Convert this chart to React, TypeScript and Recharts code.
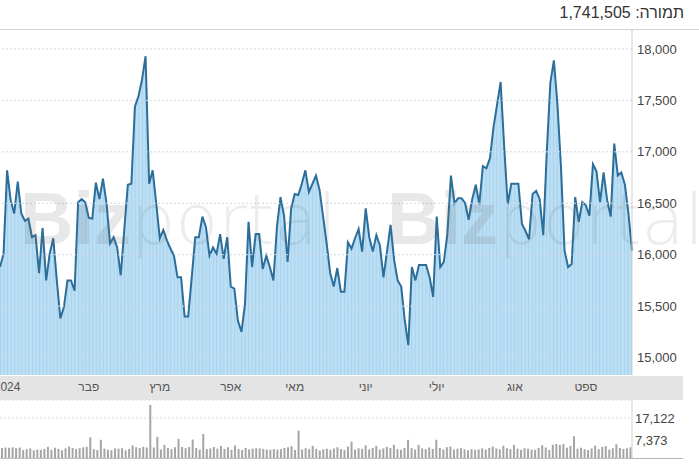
import React from 'react';
import { AreaChart, Area, BarChart, Bar, XAxis, YAxis, CartesianGrid, ReferenceLine } from 'recharts';

// daily closing values, Jan - Sep 2024
const prices: number[] = [
    15880, 16010, 16820, 16530, 16400, 16710, 16400, 16330, 16350, 16170, 16190, 15820, 16260, 15750, 16010, 16160,
    15750, 15380, 15490, 15750, 15750, 15650, 16510, 16540, 16510, 16360, 16350, 16700, 16540, 16740, 16500, 16110,
    16170, 16070, 15800, 16240, 16680, 16690, 17440, 17540, 17700, 17930, 16690, 16820, 16500, 16160, 16240, 16140,
    16060, 15990, 15780, 15780, 15400, 15400, 15780, 16170, 16170, 16370, 16270, 15990, 16070,
    16010, 16200, 15960, 16170, 15690, 15670, 15360, 15250, 15520, 16320, 15880, 16200, 16200, 15860, 15990, 15880,
    15750, 16270, 16560, 16380, 15930, 16450, 16590, 16580, 16690, 16820, 16610, 16690, 16770, 16630,
    16370, 16110, 15820, 15690, 15870, 15640, 15640, 16120, 16060, 16160, 16250, 16030, 16450, 16170, 16030, 16190,
    16090, 15780, 16030, 16290, 15950, 15750, 15690, 15360, 15120, 15880, 15750, 15900, 15900, 15900,
    15780, 15590, 16370, 15880, 15930, 16200, 16770, 16500, 16550, 16550, 16500, 16340, 16540, 16680, 16490, 16860,
    16840, 16940, 17240, 17460, 17680, 17050, 16490, 16690, 16690, 16690, 16300, 16230, 16150,
    16590, 16620, 16540, 16190, 17000, 17670, 17890, 17460, 16850, 16040, 15880, 15910, 16560, 16320, 16510, 16480,
    16380, 16880, 16810, 16510, 16800, 16530, 16370, 17080, 16770, 16800, 16680, 16400, 16040,
];

const volumes: number[] = [
    4300, 4500, 4400, 4600, 4200, 4500, 3400, 3800, 4100, 3300, 3600, 3500, 3900, 4800, 3500, 4400,
    3900, 3300, 4100, 4900, 4300, 3800, 4200, 4600, 4800, 8850, 3800, 3400, 7800, 4000, 3500, 3300,
    4100, 4000, 4200, 3300, 3900, 5400, 4600, 4300, 4800, 4500, 22700, 4500, 9000, 3600, 5600, 4300,
    3800, 4600, 8200, 4700, 4200, 4700, 7900, 4300, 3600, 10300, 3800, 4100, 4700, 4000, 5200, 3900,
    4600, 3500, 5400, 3800, 3400, 4300, 3700, 4000, 4200, 4100, 3900, 3600, 3500, 3800, 3600, 3800,
    4300, 4600, 5100, 3400, 11700, 3600, 4200, 3800, 5200, 3900, 3200, 3700, 4000, 3500, 4100, 4600,
    3800, 3500, 4900, 7000, 3600, 4200, 3900, 5400, 3700, 4300, 5200, 3600, 4100, 4800, 4300, 5700,
    3800, 3500, 4300, 7800, 4200, 3600, 5600, 4100, 3800, 4500, 3900, 7800, 4300, 3700, 4600, 4900,
    3600, 4000, 4200, 3700, 3300, 3800, 3500, 3700, 4100, 3600, 4300, 4900, 4100, 3700, 5300, 4200,
    3800, 5600, 4000, 3500, 4200, 4000, 3600, 3500, 4300, 5500, 4500, 3400, 5700, 6000, 5600, 6000,
    4400, 5200, 9300, 4000, 4400, 3800, 3400, 4100, 5300, 3800, 4700, 5100, 3600, 4200, 5900, 4300,
    3900, 4100, 4600,
];

const monthTickIdx = [2, 25, 45, 65, 83, 103, 123, 145, 165];
const monthLabels = ['2024', 'פבר', 'מרץ', 'אפר', 'מאי', 'יוני', 'יולי', 'אוג', 'ספט'];
const priceTicks = [15000, 15500, 16000, 16500, 17000, 17500, 18000];
const volumeTicks = [7373, 17122];
const turnover = '1,741,505';

const priceData = prices.map((p, i) => ({ i, price: p }));
const volumeData = volumes.map((v, i) => ({ i, volume: v }));

const fmt = (v: number) => v.toLocaleString('en-US');
const monthName = (v: number) => monthLabels[monthTickIdx.indexOf(v)] ?? '';

const font = 'Arial, "Liberation Sans", sans-serif';
const step = 631 / (prices.length - 1);

const App: React.FC = () => {
    return (
        <div style={{ position: 'absolute', left: 0, top: 0, width: 699, height: 475, background: '#fff', fontFamily: font, overflow: 'hidden' }}>
            <div style={{ position: 'absolute', right: 15, top: 3, fontSize: 16, color: '#333', direction: 'rtl', lineHeight: '20px' }}>
                תמורה: {turnover}
            </div>
            <div style={{ position: 'absolute', left: 0, top: 29, width: 699, height: 1, background: '#d4d4d4' }} />
            <div style={{ position: 'absolute', left: 0, top: 376, width: 683, height: 24, background: '#e4e4e4' }} />
            <div style={{ position: 'absolute', left: 0, top: 458, width: 683, height: 1, background: '#b4b4b4' }} />

            <div style={{ position: 'absolute', left: 0, top: 0 }}>
                <AreaChart width={699} height={400} data={priceData} margin={{ top: 30, right: 0, left: 0, bottom: 0 }}>
                    <defs>
                        <pattern id="stripes" x={0} y={0} width={step} height={4} patternUnits="userSpaceOnUse">
                            <rect x={0} y={0} width={step} height={4} fill="#bcdff4" />
                            <rect x={0} y={0} width={1} height={4} fill="#a7d2ee" />
                        </pattern>
                    </defs>
                    <XAxis
                        dataKey="i"
                        ticks={monthTickIdx}
                        interval={0}
                        tickFormatter={monthName}
                        axisLine={false}
                        tickLine={false}
                        tickSize={0}
                        tickMargin={7}
                        height={25}
                        tick={{ fill: '#555', fontSize: 12, fontFamily: font }}
                    />
                    <YAxis
                        orientation="right"
                        width={67}
                        domain={[14830, 18185]}
                        ticks={priceTicks}
                        tickFormatter={fmt}
                        axisLine={{ stroke: '#cfcfcf' }}
                        tickLine={false}
                        tickSize={0}
                        tickMargin={5}
                        allowDataOverflow
                        tick={{ fill: '#444', fontSize: 13, fontFamily: font }}
                    />
                    <Area
                        type="linear"
                        dataKey="price"
                        stroke="#2c6e9a"
                        strokeWidth={2}
                        fill="url(#stripes)"
                        fillOpacity={1}
                        dot={false}
                        activeDot={false}
                        isAnimationActive={false}
                    />
                    {priceTicks.map((t) => (
                        <ReferenceLine key={t} y={t} stroke="#cfd8e2" strokeDasharray="2 2" />
                    ))}
                </AreaChart>
            </div>

            {/* watermark */}
            <svg width={699} height={400} style={{ position: 'absolute', left: 0, top: 0, pointerEvents: 'none' }}>
                {[20, 387].map((x) => (
                    <text key={x} x={x} y={244} fontSize={74} fontFamily={font} fill="#666" fillOpacity={0.15}>
                        <tspan fontWeight="bold">Biz</tspan>
                        <tspan fontWeight={200} fontFamily='"DejaVu Sans", sans-serif' fontSize={70} fillOpacity={0.12}>portal</tspan>
                    </text>
                ))}
            </svg>

            <div style={{ position: 'absolute', left: 0, top: 400 }}>
                <BarChart width={699} height={60} data={volumeData} margin={{ top: 0, right: 0, left: 0, bottom: 2 }} barCategoryGap={0}>
                    <CartesianGrid vertical={false} stroke="#d8dde2" strokeDasharray="2 2" />
                    <XAxis dataKey="i" hide />
                    <YAxis
                        orientation="right"
                        width={67}
                        domain={[0, 24830]}
                        ticks={volumeTicks}
                        tickFormatter={fmt}
                        axisLine={{ stroke: '#cfcfcf' }}
                        tickLine={false}
                        tickSize={0}
                        tickMargin={3}
                        tick={{ fill: '#444', fontSize: 13, fontFamily: font }}
                    />
                    <Bar dataKey="volume" fill="#a5a5a5" barSize={2} isAnimationActive={false} />
                </BarChart>
            </div>
        </div>
    );
};

export default App;
